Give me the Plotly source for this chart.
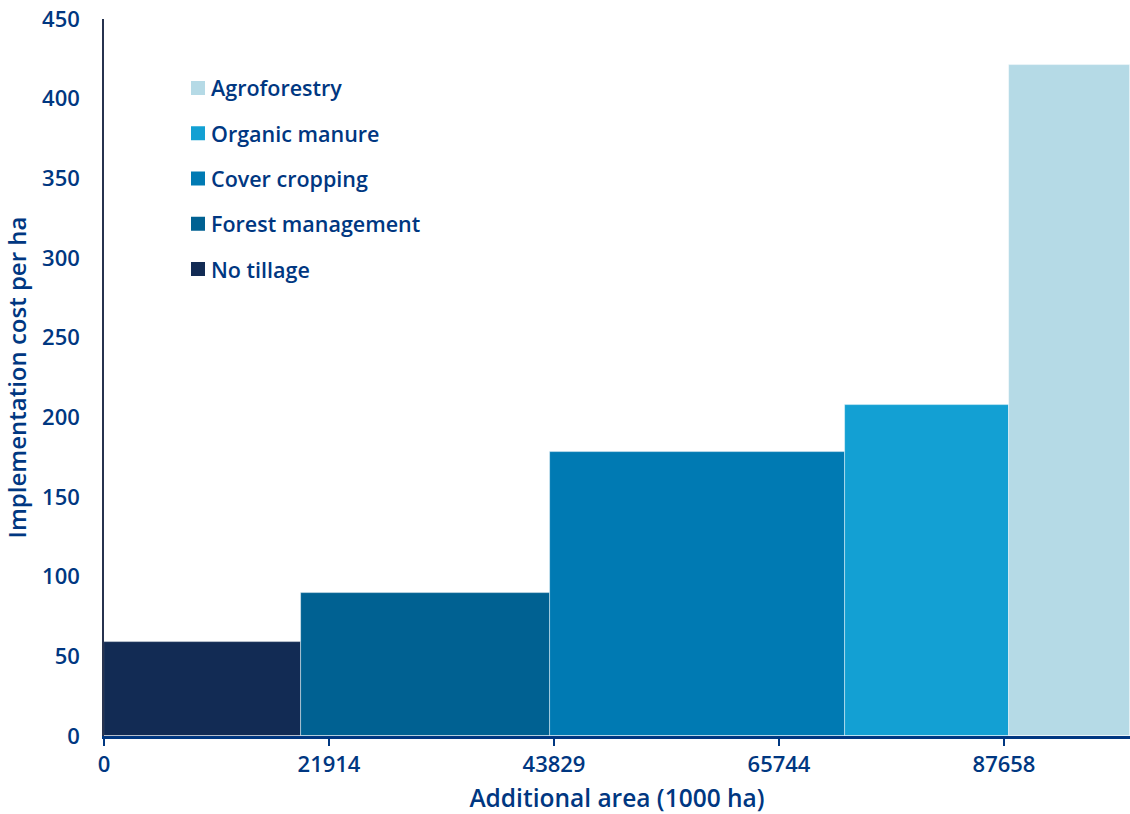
import plotly.graph_objects as go

# Abatement measures, ordered by implementation cost
measures = ["No tillage", "Forest management", "Cover cropping", "Organic manure", "Agroforestry"]
area_1000ha = [19150, 24270, 28770, 15980, 11760]   # width of each block (1000 ha)
cost_per_ha = [59, 90, 178, 208, 421]                # block height
colors = ["#122B54", "#006192", "#007AB3", "#13A0D3", "#B5DAE6"]

x_tickvals = [0, 21914, 43829, 65744, 87658]
y_tickvals = [0, 50, 100, 150, 200, 250, 300, 350, 400, 450]

NAVY = "#003781"
FONT = "Open Sans"
W, H = 1130, 814
ML, MR, MT, MB = 104, 0, 19, 78
PW, PH = W - ML - MR, H - MT - MB


def px_x(px):
    return (px - ML) / PW


def px_y(py):
    return (H - MB - py) / PH


fig = go.Figure()
start = 0
for name, w, h, c in zip(measures, area_1000ha, cost_per_ha, colors):
    fig.add_trace(go.Bar(
        x=[start + w / 2], y=[h], width=[w], name=name, showlegend=False,
        marker=dict(color=c, line=dict(color="rgba(255,255,255,0.55)", width=0.8)),
    ))
    start += w

total = sum(area_1000ha)

# Legend block: most expensive measure on top
for i, (name, c) in enumerate(zip(reversed(measures), reversed(colors))):
    cy = 88 + i * 45.25
    fig.add_shape(type="rect", xref="paper", yref="paper",
                  x0=px_x(191), x1=px_x(205), y0=px_y(cy + 7), y1=px_y(cy - 7),
                  fillcolor=c, line=dict(width=0))
    fig.add_annotation(xref="paper", yref="paper", x=px_x(209), y=px_y(cy),
                       xanchor="left", yanchor="middle", showarrow=False,
                       text=name, font=dict(size=21.5, color=NAVY, family=FONT, weight=600))

fig.update_layout(
    width=W, height=H,
    margin=dict(l=ML, r=MR, t=MT, b=MB),
    paper_bgcolor="white", plot_bgcolor="white",
    font=dict(family=FONT, color=NAVY, size=20, weight=600),
    bargap=0,
    showlegend=False,
    xaxis=dict(
        range=[0, total], tickvals=x_tickvals, ticktext=[str(v) for v in x_tickvals],
        showgrid=False, zeroline=False,
        showline=True, linecolor=NAVY, linewidth=2.5,
        ticks="outside", ticklen=7, tickwidth=1.5, tickcolor=NAVY,
        tickfont=dict(size=22, color=NAVY, family=FONT, weight=600),
        title=dict(text="Additional area (1000 ha)", standoff=15,
                   font=dict(size=24.5, color=NAVY, family=FONT, weight=600)),
    ),
    yaxis=dict(
        range=[0, 450], tickvals=y_tickvals,
        showgrid=False, zeroline=False,
        showline=True, linecolor="#27334f", linewidth=1.5,
        ticks="", ticklabelstandoff=18,
        tickfont=dict(size=22, color=NAVY, family=FONT, weight=600),
        title=dict(text="Implementation cost per ha", standoff=10,
                   font=dict(size=24, color=NAVY, family=FONT, weight=600)),
    ),
)

fig.write_html("out.html")
